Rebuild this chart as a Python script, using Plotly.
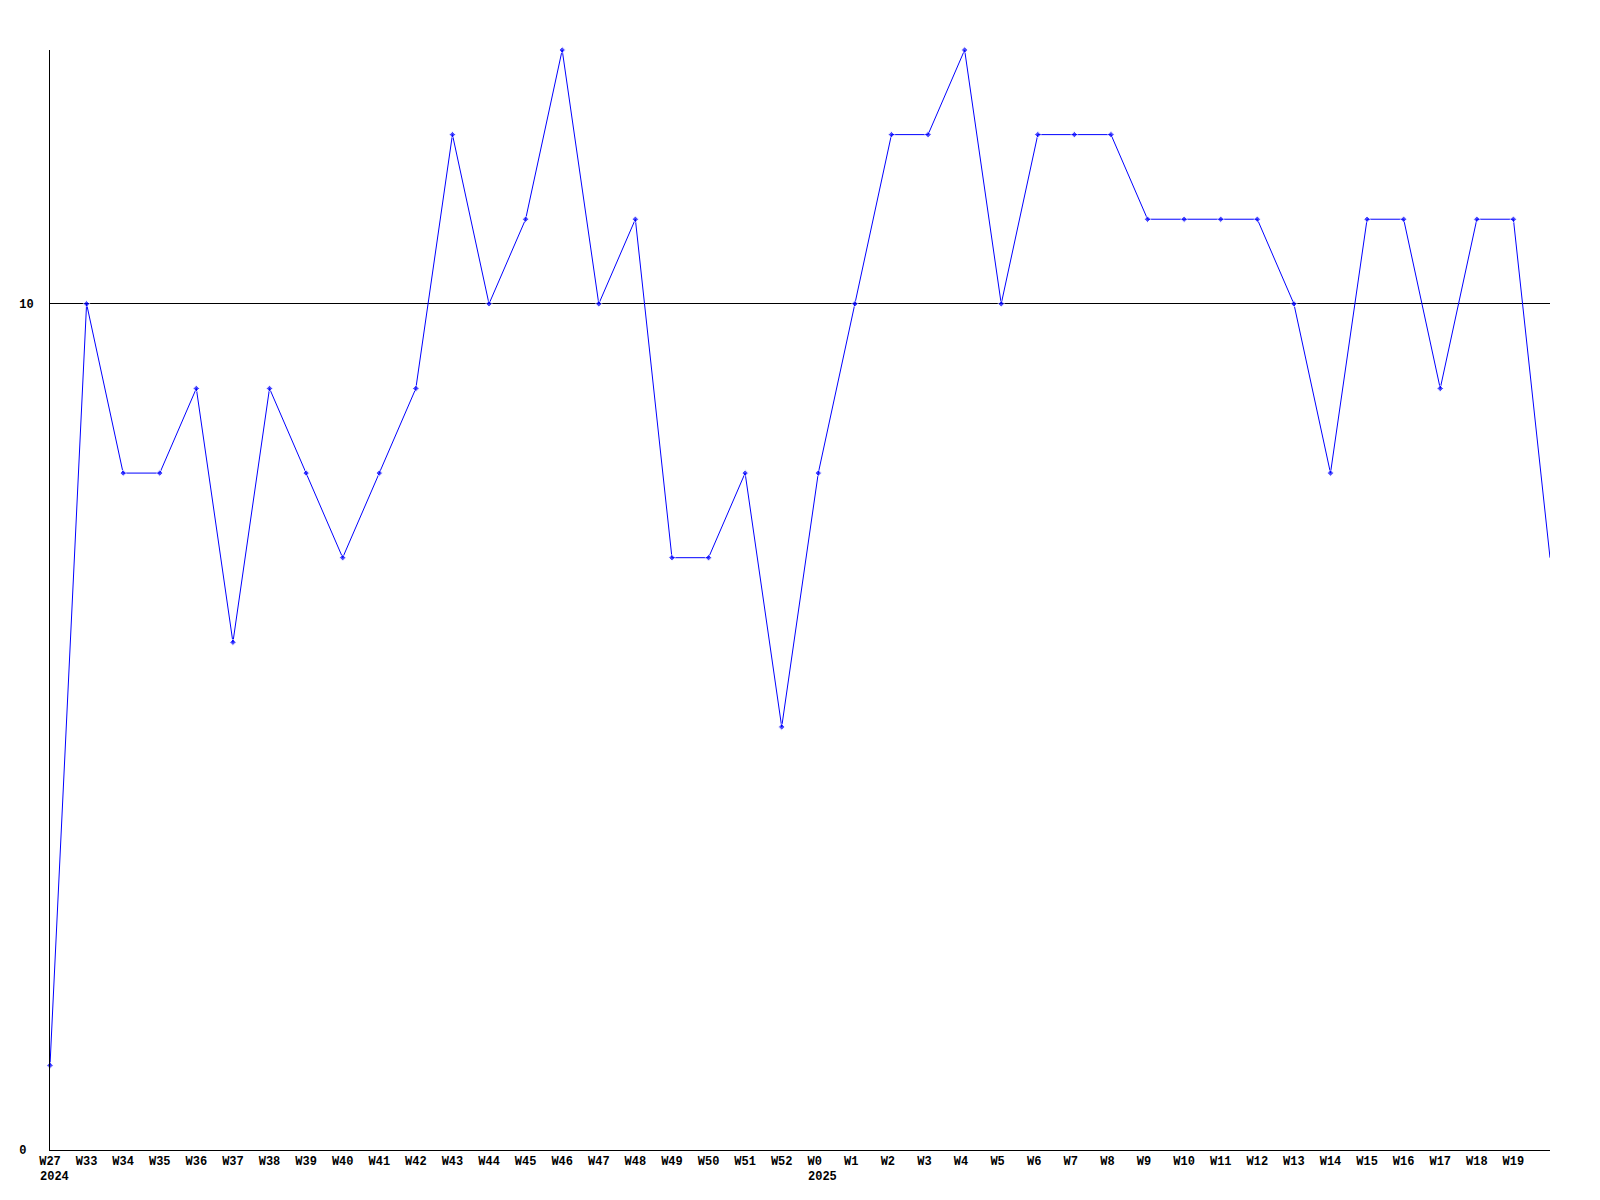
import plotly.graph_objects as go

weeks = ["W27", "W33", "W34", "W35", "W36", "W37", "W38", "W39", "W40", "W41",
         "W42", "W43", "W44", "W45", "W46", "W47", "W48", "W49", "W50", "W51",
         "W52", "W0", "W1", "W2", "W3", "W4", "W5", "W6", "W7", "W8",
         "W9", "W10", "W11", "W12", "W13", "W14", "W15", "W16", "W17", "W18",
         "W19", "W20"]
values = [1, 10, 8, 8, 9, 6, 9, 8, 7, 8,
          9, 12, 10, 11, 13, 10, 11, 7, 7, 8,
          5, 8, 10, 12, 12, 13, 10, 12, 12, 12,
          11, 11, 11, 11, 10, 8, 11, 11, 9, 11,
          11, 7]
year_labels = {"W27": "2024", "W0": "2025"}
hidden_label = "W20"

xs = list(range(len(weeks)))
tick_text = []
for w in weeks:
    if w == hidden_label:
        tick_text.append("")
    else:
        tick_text.append(w + "\u00a0" * max(0, 3 - len(w)))

marker_sizes = [0 if w == hidden_label else 5 for w in weeks]

fig = go.Figure()
fig.add_trace(go.Scatter(
    x=xs, y=values, mode="lines+markers",
    line=dict(color="#0000ff", width=1),
    marker=dict(color="#0000ff", size=marker_sizes, symbol="diamond"),
    cliponaxis=False,
))

font = dict(family="Liberation Mono, DejaVu Sans Mono, monospace", size=12,
            color="#000000", weight="bold")

for w, yr in year_labels.items():
    fig.add_annotation(
        x=weeks.index(w), xref="x", y=0, yref="paper",
        text=yr, showarrow=False, xanchor="left", yanchor="middle",
        xshift=-12, yshift=-27, font=font,
    )

fig.update_layout(
    width=1600, height=1200,
    margin=dict(l=42, r=58, t=42, b=58),
    paper_bgcolor="white", plot_bgcolor="white",
    showlegend=False,
    font=font,
    xaxis=dict(
        range=[0, len(weeks) - 1],
        tickmode="array", tickvals=xs, ticktext=tick_text,
        showgrid=False, zeroline=False,
        showline=True, linecolor="#000000", linewidth=1,
        ticks="", tickfont=font, fixedrange=True, automargin=False,
    ),
    yaxis=dict(
        range=[0, 13],
        tickmode="array", tickvals=[0, 10], ticktext=["0\u00a0", "10"],
        showgrid=True, gridcolor="#000000", gridwidth=1,
        zeroline=False,
        showline=True, linecolor="#000000", linewidth=1,
        ticks="", ticklabelstandoff=13, tickfont=font, fixedrange=True,
        automargin=False,
    ),
)

fig.write_html("out.html")
